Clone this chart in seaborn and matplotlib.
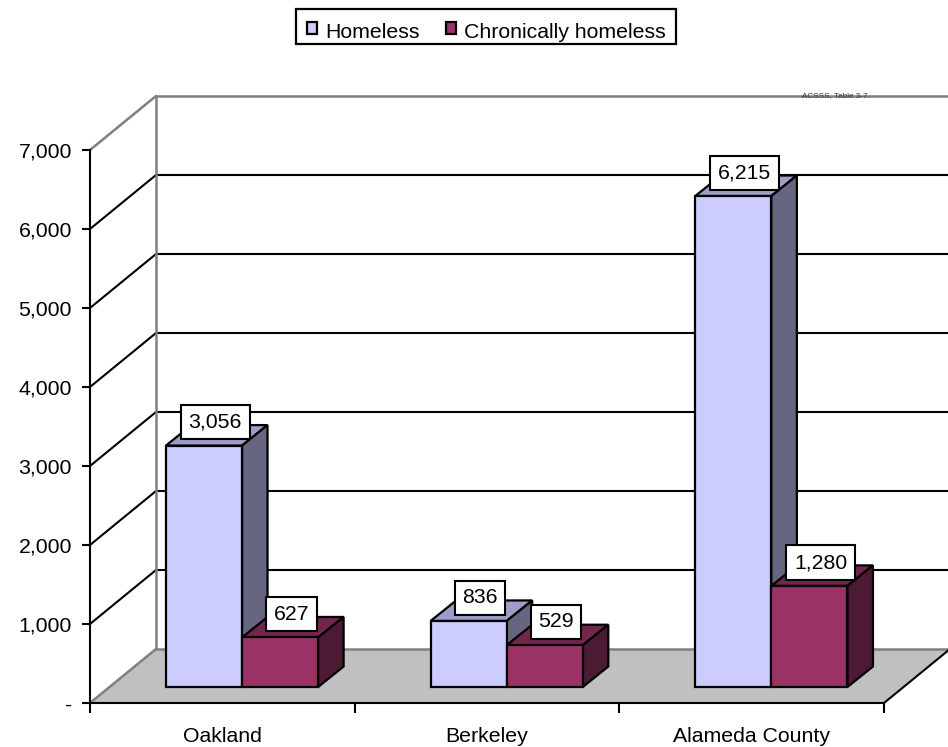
import pandas as pd
import matplotlib.pyplot as plt
import seaborn as sns

cities = ["Oakland", "Berkeley", "Alameda County"]
homeless = [3056, 836, 6215]
chronic = [627, 529, 1280]
y_ticks = [0, 1000, 2000, 3000, 4000, 5000, 6000, 7000]
y_labels = ["-", "1,000", "2,000", "3,000", "4,000", "5,000", "6,000", "7,000"]

W, H = 948, 747
# plot frame in pixels
LEFT, RIGHT, BASE, TOP = 90, 884, 703, 150
WALL_DX, WALL_DY = 66, 54      # depth of the floor
BAR_DX, BAR_DY = 19.7, 16      # where the bars stand on the floor
SIDE_DX, SIDE_DY = 25.5, 20.5  # depth of one bar
LABEL_UP = 15

sns.set_theme(style="white")
plt.rcParams["font.family"] = ["Liberation Sans", "DejaVu Sans"]
FS = 15.3

df = pd.DataFrame({
    "city": cities * 2,
    "count": homeless + chronic,
    "series": ["Homeless"] * 3 + ["Chronically homeless"] * 3,
})

fig = plt.figure(figsize=(W / 100, H / 100), dpi=100, facecolor="white")
ax = fig.add_axes([LEFT / W, 1 - BASE / H, (RIGHT - LEFT) / W, (BASE - TOP) / H])
ax.patch.set_alpha(0)

front = ["#CCCCFF", "#993366"]
tops = ["#9D9DC8", "#73264D"]
sides = ["#666680", "#4D1A33"]

sns.barplot(data=df, x="city", y="count", hue="series", order=cities,
            hue_order=["Homeless", "Chronically homeless"], palette=front,
            width=0.575, gap=0, saturation=1, edgecolor="black", linewidth=1.6,
            ax=ax, legend=False)
bars = list(ax.patches)
ax.set_xlim(-0.5, 2.5)
ax.set_ylim(0, 7000)
ax.set_xlabel("")
ax.set_ylabel("")

# pixel lengths to data units
ux = 3 / (RIGHT - LEFT)
uy = 7000 / (BASE - TOP)
wall_x, wall_y = WALL_DX * ux, WALL_DY * uy

# floor, back wall and grid
ax.fill([-0.5, -0.5 + wall_x, 2.5 + wall_x, 2.5], [0, wall_y, wall_y, 0],
        color="#C0C0C0", lw=0, zorder=0, clip_on=False)
for v in y_ticks:
    c = "black" if 0 < v < 7000 else "#808080"
    lw = 1.5 if 0 < v < 7000 else 1.8
    ax.plot([-0.5, -0.5 + wall_x], [v, v + wall_y], color=c, lw=lw, zorder=1, clip_on=False)
    ax.plot([-0.5 + wall_x, 2.5 + wall_x], [v + wall_y, v + wall_y], color=c, lw=lw, zorder=1, clip_on=False)
ax.plot([-0.5 + wall_x] * 2, [wall_y, 7000 + wall_y], color="#808080", lw=1.8, zorder=1, clip_on=False)
ax.plot([2.5 + wall_x] * 2, [wall_y, 7000 + wall_y], color="#D9D9D9", lw=1, zorder=1, clip_on=False)
ax.plot([2.5, 2.5 + wall_x], [0, wall_y], color="black", lw=1.5, zorder=1, clip_on=False)

# stand the seaborn bars on the floor and extrude them
for i, bar in enumerate(bars):
    s = i // 3
    bar.set_x(bar.get_x() + BAR_DX * ux)
    bar.set_y(BAR_DY * uy)
    bar.set_zorder(3 + s)
    bar.set_clip_on(False)
    x0, x1 = bar.get_x(), bar.get_x() + bar.get_width()
    y0, y1 = bar.get_y(), bar.get_y() + bar.get_height()
    dx, dy = SIDE_DX * ux, SIDE_DY * uy
    ax.fill([x0, x0 + dx, x1 + dx, x1], [y1, y1 + dy, y1 + dy, y1], facecolor=tops[s],
            edgecolor="black", lw=1.6, zorder=2.8 + s, clip_on=False, joinstyle="miter")
    ax.fill([x1, x1 + dx, x1 + dx, x1], [y0, y0 + dy, y1 + dy, y1], facecolor=sides[s],
            edgecolor="black", lw=1.6, zorder=2.8 + s, clip_on=False, joinstyle="miter")
    ax.text((x0 + x1 + dx) / 2 - 1.5 * ux, y1 + dy / 2 + LABEL_UP * uy, f"{int(bar.get_height()):,}",
            ha="center", va="center_baseline", fontsize=FS, color="black", zorder=6,
            bbox=dict(boxstyle="square,pad=0.36", facecolor="white", edgecolor="black", lw=1.5))

# axes
sns.despine(ax=ax, top=True, right=True)
for side in ["left", "bottom"]:
    ax.spines[side].set_color("black")
    ax.spines[side].set_linewidth(1.5)
    ax.spines[side].set_zorder(2)
ax.set_yticks(y_ticks, y_labels)
ax.set_xticks(range(3), cities)
ax.set_xticks([-0.5, 0.5, 1.5, 2.5], minor=True)
ax.tick_params(axis="y", which="major", left=True, length=6, width=1.5, pad=7,
               color="black", labelsize=FS, labelcolor="black")
ax.tick_params(axis="x", which="major", bottom=False, pad=11, labelsize=FS, labelcolor="black")
ax.tick_params(axis="x", which="minor", bottom=True, length=7.5, width=1.5, color="black")

# legend, the box sits a little above its text so it is drawn on its own
fig.add_artist(plt.Rectangle((296 / W, 1 - 44 / H), 380 / W, 35 / H, transform=fig.transFigure,
                             facecolor="white", edgecolor="black", lw=1.6))
handles = [plt.Rectangle((0, 0), 1, 1, facecolor=c, edgecolor="black", lw=1.6) for c in front]
leg = fig.legend(handles, ["Homeless", "Chronically homeless"], loc="center",
                 bbox_to_anchor=(486.5 / W, 1 - 33 / H), ncol=2, fontsize=FS, labelcolor="black",
                 frameon=False, borderpad=0.4,
                 handlelength=0.47, handleheight=0.47, handletextpad=0.38, columnspacing=1.25)
for h in leg.legend_handles:
    h.set_y(h.get_y() + 2.2)

fig.text(836 / W, 1 - 96 / H, "ACSSS, Table 3-7.", ha="center", va="center", fontsize=5.9, color="#333333")

fig.savefig("out.png", dpi=100)
plt.close(fig)
